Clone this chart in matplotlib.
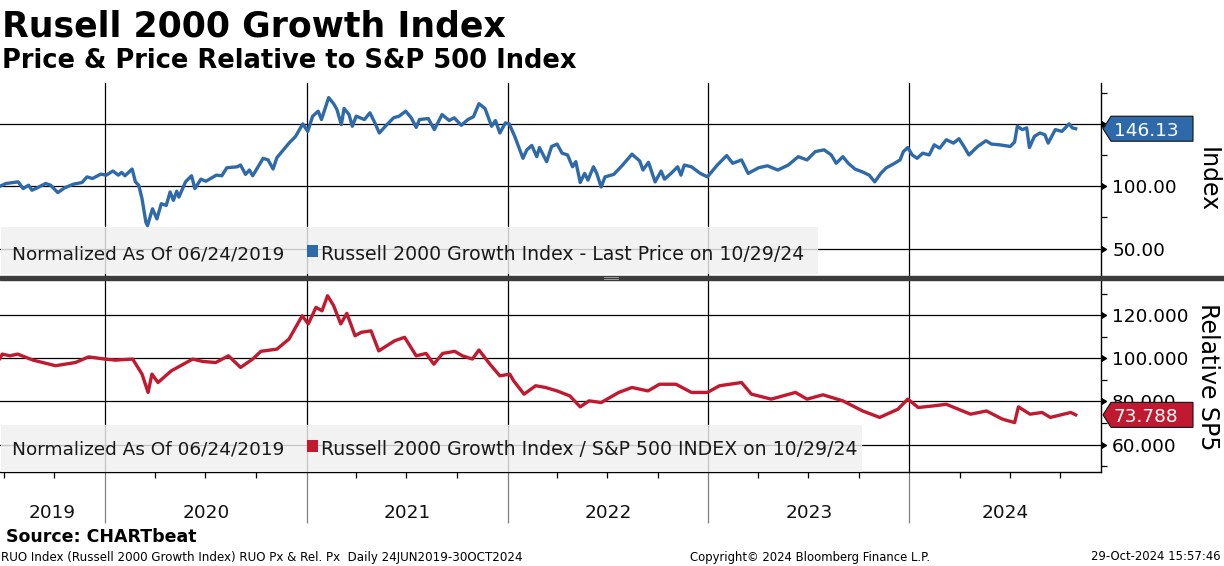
import matplotlib
matplotlib.use("Agg")
import matplotlib.pyplot as plt
import matplotlib.dates as mdates
import matplotlib.transforms as mtransforms
from matplotlib.patches import Rectangle, Polygon
from matplotlib.ticker import FixedLocator, FormatStrFormatter
import pandas as pd

# Russell 2000 Growth, normalized to 100 on 06/24/2019
price_dates = [
    "2019-06-24", "2019-07-05", "2019-07-27", "2019-08-05", "2019-08-15", "2019-08-21",
    "2019-08-30", "2019-09-15", "2019-09-24", "2019-10-07", "2019-10-19", "2019-11-04",
    "2019-11-20", "2019-11-29", "2019-12-09", "2019-12-24", "2020-01-03", "2020-01-15",
    "2020-01-25", "2020-01-31", "2020-02-06", "2020-02-19", "2020-02-25", "2020-03-02",
    "2020-03-08", "2020-03-15", "2020-03-18", "2020-03-27", "2020-04-04", "2020-04-12",
    "2020-04-21", "2020-04-28", "2020-05-04", "2020-05-10", "2020-05-14", "2020-05-26",
    "2020-06-06", "2020-06-12", "2020-06-23", "2020-07-02", "2020-07-21", "2020-07-31",
    "2020-08-09", "2020-08-28", "2020-09-03", "2020-09-12", "2020-09-19", "2020-09-25",
    "2020-10-14", "2020-10-23", "2020-11-01", "2020-11-08", "2020-11-30", "2020-12-12",
    "2020-12-25", "2021-01-03", "2021-01-12", "2021-01-22", "2021-01-28", "2021-02-10",
    "2021-02-19", "2021-02-25", "2021-03-05", "2021-03-10", "2021-03-19", "2021-03-25",
    "2021-04-01", "2021-04-16", "2021-04-26", "2021-05-05", "2021-05-13", "2021-05-24",
    "2021-06-08", "2021-06-18", "2021-06-30", "2021-07-10", "2021-07-19", "2021-07-25",
    "2021-08-10", "2021-08-21", "2021-09-04", "2021-09-17", "2021-09-26", "2021-10-09",
    "2021-10-21", "2021-10-31", "2021-11-10", "2021-11-21", "2021-12-03", "2021-12-10",
    "2021-12-18", "2021-12-28", "2022-01-04", "2022-01-14", "2022-01-29", "2022-02-05",
    "2022-02-14", "2022-02-23", "2022-02-28", "2022-03-13", "2022-03-22", "2022-04-01",
    "2022-04-10", "2022-04-20", "2022-04-29", "2022-05-05", "2022-05-13", "2022-05-21",
    "2022-05-27", "2022-06-06", "2022-06-12", "2022-06-20", "2022-06-27", "2022-07-13",
    "2022-07-29", "2022-08-15", "2022-08-29", "2022-09-04", "2022-09-14", "2022-09-26",
    "2022-10-07", "2022-10-13", "2022-10-25", "2022-11-06", "2022-11-12", "2022-11-18",
    "2022-12-01", "2022-12-17", "2022-12-30", "2023-01-17", "2023-02-03", "2023-02-14",
    "2023-03-02", "2023-03-14", "2023-04-02", "2023-04-18", "2023-05-07", "2023-05-26",
    "2023-06-13", "2023-06-29", "2023-07-14", "2023-07-30", "2023-08-12", "2023-08-21",
    "2023-09-02", "2023-09-12", "2023-09-24", "2023-10-07", "2023-10-20", "2023-10-30",
    "2023-11-10", "2023-11-20", "2023-12-02", "2023-12-15", "2023-12-21", "2023-12-29",
    "2024-01-06", "2024-01-15", "2024-01-25", "2024-02-06", "2024-02-15", "2024-02-25",
    "2024-03-08", "2024-03-21", "2024-03-31", "2024-04-09", "2024-04-18", "2024-05-04",
    "2024-05-19", "2024-05-29", "2024-06-13", "2024-07-02", "2024-07-10", "2024-07-15",
    "2024-07-24", "2024-08-01", "2024-08-06", "2024-08-15", "2024-08-25", "2024-09-03",
    "2024-09-09", "2024-09-22", "2024-10-04", "2024-10-17", "2024-10-23", "2024-10-29",
]
price_values = [
    100.0, 102.2, 103.5, 98.1, 100.8, 96.8,
    98.6, 102.2, 100.8, 94.9, 98.6, 101.6,
    103.0, 107.5, 106.2, 109.7, 108.9, 112.2,
    108.9, 111.1, 108.4, 113.8, 103.5, 100.8,
    90.0, 71.1, 68.4, 81.9, 73.8, 86.0,
    84.6, 95.4, 88.7, 96.0, 91.3, 103.5,
    108.4, 98.1, 105.7, 104.0, 108.9, 108.4,
    114.8, 115.6, 117.0, 109.5, 113.0, 108.4,
    122.4, 121.1, 113.8, 122.9, 134.6, 140.0,
    150.0, 144.0, 156.2, 160.2, 153.5, 171.1,
    166.2, 161.6, 149.4, 162.4, 157.5, 148.1,
    156.2, 153.5, 158.9, 150.8, 142.7, 148.1,
    154.9, 156.2, 160.2, 154.9, 147.2, 153.5,
    154.3, 145.4, 157.5, 152.7, 154.9, 148.9,
    153.5, 155.7, 166.2, 162.4, 148.1, 152.7,
    142.7, 150.8, 150.0, 140.0, 122.4, 129.2,
    132.7, 123.7, 131.0, 119.7, 131.9, 133.8,
    126.5, 125.1, 115.6, 119.7, 103.0, 110.3,
    104.9, 115.6, 110.3, 99.4, 107.5, 109.5,
    117.0, 125.7, 120.3, 113.0, 119.2, 103.5,
    112.2, 105.7, 110.3, 115.6, 108.9, 117.0,
    115.6, 110.3, 107.5, 117.0, 124.6, 118.4,
    121.1, 110.3, 114.8, 116.4, 113.0, 117.0,
    123.7, 121.1, 127.8, 129.2, 125.1, 118.4,
    123.7, 118.4, 113.8, 111.6, 108.9, 103.5,
    110.3, 114.8, 117.6, 121.1, 127.8, 131.0,
    125.1, 122.4, 126.5, 125.1, 133.2, 130.5,
    137.3, 134.6, 138.1, 131.9, 125.1, 131.9,
    136.5, 133.8, 133.2, 131.9, 135.4, 148.1,
    145.4, 146.8, 131.0, 140.0, 142.7, 141.3,
    134.6, 145.4, 144.0, 150.0, 146.8, 146.13,
]

# Russell 2000 Growth / S&P 500, normalized to 100
rel_dates = [
    "2019-06-24", "2019-06-28", "2019-07-12", "2019-07-26", "2019-08-23", "2019-10-03",
    "2019-11-08", "2019-12-02", "2019-12-31", "2020-01-20", "2020-02-20", "2020-03-08",
    "2020-03-19", "2020-03-26", "2020-04-06", "2020-04-30", "2020-06-08", "2020-06-26",
    "2020-07-20", "2020-08-12", "2020-09-03", "2020-09-25", "2020-10-10", "2020-11-08",
    "2020-11-30", "2020-12-24", "2021-01-04", "2021-01-18", "2021-01-29", "2021-02-08",
    "2021-02-19", "2021-03-04", "2021-03-15", "2021-03-30", "2021-04-10", "2021-04-28",
    "2021-05-12", "2021-06-10", "2021-06-28", "2021-07-19", "2021-08-06", "2021-08-20",
    "2021-09-05", "2021-09-27", "2021-10-11", "2021-10-29", "2021-11-10", "2021-11-30",
    "2021-12-18", "2022-01-05", "2022-01-12", "2022-01-31", "2022-02-21", "2022-03-11",
    "2022-04-01", "2022-04-24", "2022-05-13", "2022-05-29", "2022-06-20", "2022-07-22",
    "2022-08-15", "2022-09-13", "2022-10-04", "2022-11-03", "2022-12-01", "2022-12-30",
    "2023-01-21", "2023-03-02", "2023-03-20", "2023-04-25", "2023-06-08", "2023-06-29",
    "2023-07-28", "2023-09-02", "2023-10-08", "2023-11-08", "2023-12-11", "2023-12-29",
    "2024-01-17", "2024-02-15", "2024-03-08", "2024-04-21", "2024-05-20", "2024-06-18",
    "2024-07-10", "2024-07-17", "2024-08-07", "2024-08-29", "2024-09-13", "2024-10-20",
    "2024-10-29",
]
rel_values = [
    100.0, 102.0, 101.2, 102.0, 99.2, 96.6,
    98.1, 100.7, 99.7, 99.2, 99.7, 92.7,
    84.2, 92.7, 88.8, 94.2, 99.7, 98.6,
    98.1, 101.2, 95.8, 99.7, 103.3, 104.3,
    109.0, 119.8, 116.0, 123.7, 122.1, 129.1,
    124.5, 116.0, 120.9, 110.5, 112.1, 112.8,
    103.5, 108.2, 109.8, 101.2, 102.3, 97.3,
    102.3, 103.3, 101.2, 99.7, 103.9, 97.3,
    91.9, 92.7, 89.6, 83.4, 87.3, 86.5,
    84.9, 82.6, 77.5, 80.3, 79.5, 84.2,
    86.5, 84.9, 88.0, 88.0, 84.2, 84.2,
    87.3, 88.8, 83.4, 81.1, 84.2, 81.1,
    83.1, 80.3, 75.6, 72.6, 76.4, 81.1,
    77.2, 78.0, 78.7, 74.1, 75.6, 71.8,
    70.2, 77.5, 74.1, 74.9, 72.6, 74.9,
    73.788,
]

years = [2019, 2020, 2021, 2022, 2023, 2024]
price_ticks = [50, 100, 150]
price_minor = [75, 125, 175]
rel_ticks = [60, 80, 100, 120]
rel_minor = [50, 70, 90, 110, 130]

blue = "#2e6aa9"
red = "#c1192f"

price = pd.Series(price_values, index=pd.to_datetime(price_dates))
rel = pd.Series(rel_values, index=pd.to_datetime(rel_dates))
x_start = pd.Timestamp("2019-06-24")
x_end = pd.Timestamp("2024-12-14")

W, H = 1224, 566
plt.rcParams["font.family"] = "DejaVu Sans"
fig = plt.figure(figsize=(W / 100, H / 100), dpi=100)


def fx(px):
    return px / W


def fy(py):
    return 1 - py / H


ax1 = fig.add_axes([0, fy(276), fx(1101), fy(83) - fy(276)])
ax2 = fig.add_axes([0, fy(471.7), fx(1101), fy(280) - fy(471.7)])

ax1.plot(price.index, price.values, color=blue, lw=2.4, zorder=4)
ax2.plot(rel.index, rel.values, color=red, lw=2.4, zorder=4)

ax1.set_ylim(28, 182.8)
ax2.set_ylim(47.4, 136.4)

for ax, major, minor, fmt in [(ax1, price_ticks, price_minor, "%.2f"),
                              (ax2, rel_ticks, rel_minor, "%.3f")]:
    ax.set_xlim(x_start, x_end)
    ax.set_axisbelow(True)
    for s in ["left", "top"]:
        ax.spines[s].set_visible(False)
    ax.spines["right"].set_linewidth(1.0)
    ax.yaxis.tick_right()
    ax.yaxis.set_major_locator(FixedLocator(major))
    ax.yaxis.set_minor_locator(FixedLocator(minor))
    ax.yaxis.set_major_formatter(FormatStrFormatter(fmt))
    ax.tick_params(axis="y", which="major", length=0, pad=8, labelsize=13.3)
    ax.tick_params(axis="y", which="minor", length=4, width=0.9, direction="out")
    ax.xaxis.set_major_locator(mdates.YearLocator())
    ax.grid(True, which="major", color="black", lw=0.9)
    # little arrow heads at the major ticks
    ax.plot([1] * len(major), major, ls="none", marker=9, ms=5, color="black",
            transform=ax.get_yaxis_transform(), clip_on=False, zorder=5)

# the 150.00 label sits fully under the last-price tag in the original
ax1.yaxis.get_major_ticks()[2].label2.set_visible(False)

ax1.spines["bottom"].set_visible(False)
ax1.tick_params(axis="x", which="both", length=0, labelbottom=False)

ax2.spines["bottom"].set_linewidth(1.0)
ax2.xaxis.set_minor_locator(mdates.MonthLocator(bymonth=[1, 4, 7, 10]))
ax2.tick_params(axis="x", which="major", length=37, width=0.9, color="#808080",
                direction="out", labelbottom=False)
ax2.tick_params(axis="x", which="minor", length=4, width=0.9, direction="out")

# year labels centred on the visible part of each year
yr_trans = mtransforms.blended_transform_factory(ax2.transData, fig.transFigure)
for y in years:
    a = max(pd.Timestamp(f"{y}-01-01"), x_start)
    b = min(pd.Timestamp(f"{y + 1}-01-01"), x_end)
    mid = a + (b - a) / 2
    ax2.text(mid, fy(518), str(y), transform=yr_trans, ha="center", va="baseline",
             fontsize=13.3, color="#111111")

# separator between panels
fig.add_artist(Rectangle((0, fy(280)), 1, fy(276) - fy(280), transform=fig.transFigure,
                         color="#3c3c3c", zorder=6))
for py in [277.3, 278.7]:
    fig.add_artist(plt.Line2D([fx(604), fx(618)], [fy(py), fy(py)], color="#aaaaaa",
                              lw=0.6, transform=fig.transFigure, zorder=7))

# legend boxes
legends = [
    (ax1, 227, 274, 818, 260, blue,
     "Russell 2000 Growth Index - Last Price on 10/29/24"),
    (ax2, 425, 471.7, 862, 455, red,
     "Russell 2000 Growth Index / S&P 500 INDEX on 10/29/24"),
]
for ax, top, bot, right, base, col, label in legends:
    ax.add_patch(Rectangle((fx(1), fy(bot)), fx(right) - fx(1), fy(top) - fy(bot),
                           transform=fig.transFigure, facecolor="#f0f0f0", edgecolor="none",
                           alpha=0.82, zorder=3, clip_on=False))
    ax.text(fx(12.5), fy(base), "Normalized As Of 06/24/2019", transform=fig.transFigure,
            fontsize=13.3, color="#1a1a1a", va="baseline", zorder=6)
    ax.add_patch(Rectangle((fx(306.5), fy(base - 3.5)), fx(11.5), fy(0) - fy(11.5),
                           transform=fig.transFigure, facecolor=col, edgecolor="none",
                           zorder=6, clip_on=False))
    ax.text(fx(321), fy(base), label, transform=fig.transFigure,
            fontsize=13.6, color="#1a1a1a", va="baseline", zorder=6)


# last value tags
def tag(ax, value, text, col):
    x0, cy = ax.transData.transform((mdates.date2num(x_end), value))
    h = 12.5
    pts = [(x0 + 2, cy), (x0 + 10, cy + h), (x0 + 92, cy + h), (x0 + 92, cy - h),
           (x0 + 10, cy - h)]
    fig.add_artist(Polygon(pts, closed=True, facecolor=col, edgecolor="#111111", lw=0.8,
                           transform=mtransforms.IdentityTransform(), zorder=8))
    fig.text(x0 + 13, cy, text, color="white", fontsize=13.3, va="center_baseline",
             ha="left", transform=mtransforms.IdentityTransform(), zorder=9)


tag(ax1, price_values[-1], f"{price_values[-1]:.2f}", blue)
tag(ax2, rel_values[-1], f"{rel_values[-1]:.3f}", red)

fig.text(fx(1208), fy(180), "Index", rotation=270, ha="center", va="center", fontsize=17)
fig.text(fx(1208), fy(377), "Relative SP5", rotation=270, ha="center", va="center",
         fontsize=17)

# titles and footer
fig.text(fx(2), fy(36.5), "Rusell 2000 Growth Index", fontsize=25, fontweight="bold",
         va="baseline")
fig.text(fx(2), fy(68), "Price & Price Relative to S&P 500 Index", fontsize=18.5,
         fontweight="bold", va="baseline")
fig.text(fx(6), fy(542.5), "Source: CHARTbeat", fontsize=12.5, fontweight="bold",
         va="baseline")
fig.text(fx(1), fy(557), "RUO Index (Russell 2000 Growth Index) RUO Px & Rel. Px  Daily 24JUN2019-30OCT2024",
         fontsize=8.6, va="center")
fig.text(fx(810), fy(557), "Copyright\u00a9 2024 Bloomberg Finance L.P.", fontsize=8.4,
         va="center", ha="center")
fig.text(fx(1221), fy(557), "29-Oct-2024 15:57:46", fontsize=8.4, va="center", ha="right")

fig.savefig("out.png", dpi=100)
